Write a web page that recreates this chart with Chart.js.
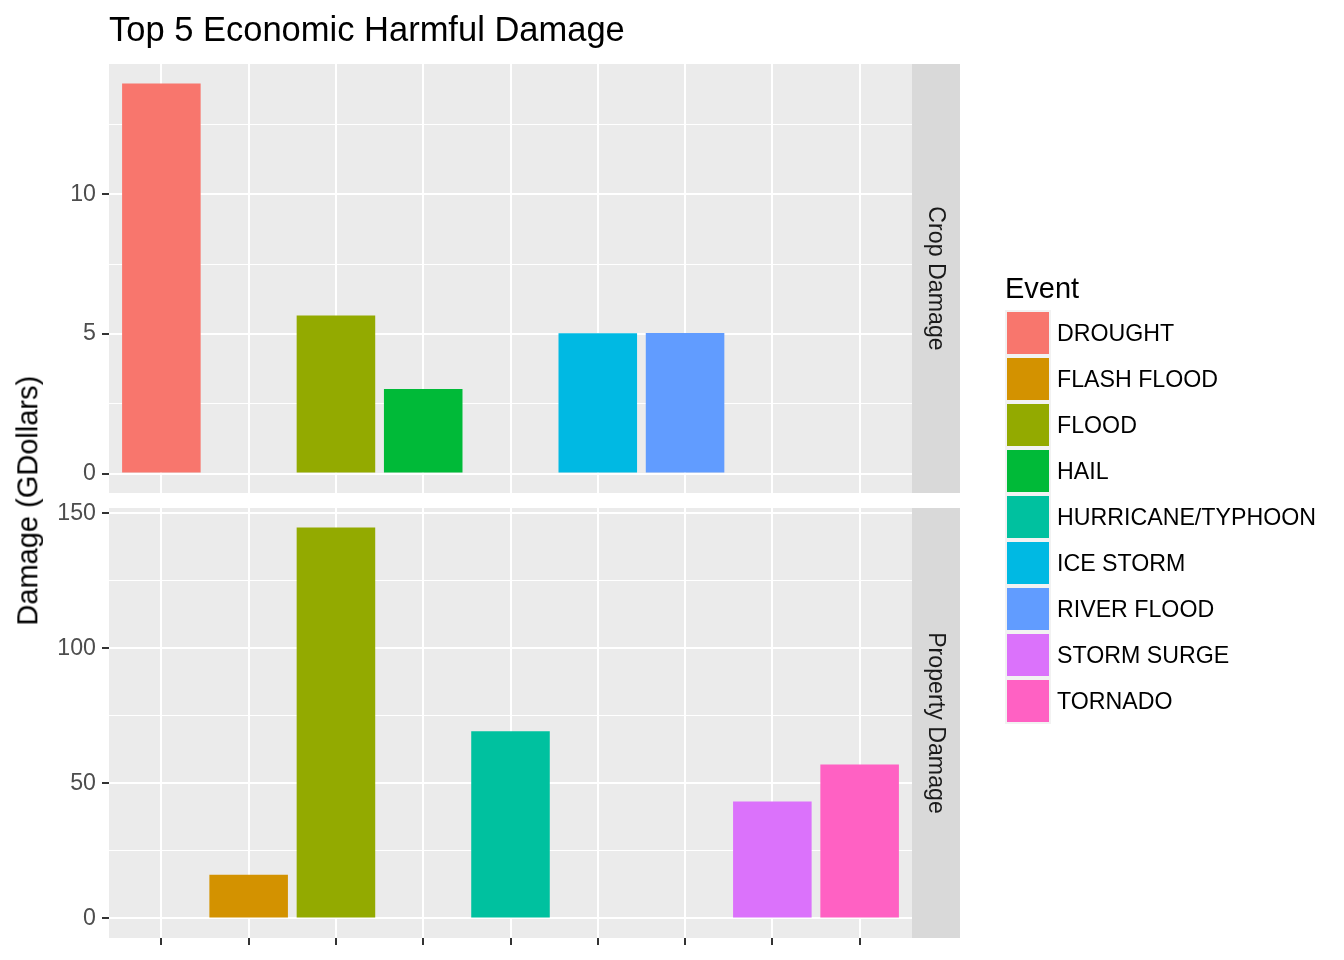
<!DOCTYPE html>
<html>
<head>
<meta charset="utf-8">
<title>Top 5 Economic Harmful Damage</title>
<script src="https://cdn.jsdelivr.net/npm/chart.js@4.4.1/dist/chart.umd.min.js"></script>
<style>
  body { margin: 0; background: #fff; font-family: "Liberation Sans", Arial, sans-serif; }
  #wrap { position: relative; width: 1344px; height: 960px; overflow: hidden; }
  canvas { position: absolute; left: 0; top: 0; }
  #title { position: absolute; left: 109px; top: 12px; font-size: 34.5px; line-height: 34.5px; color: #000; white-space: nowrap; }
  #ytitle { position: absolute; left: -272px; top: 486px; width: 600px; height: 29.3px;
            font-size: 29px; line-height: 29.3px; text-align: center; color: #000;
            transform: rotate(-90deg); transform-origin: 50% 50%; white-space: nowrap; }
  #legend { position: absolute; left: 1005px; top: 274px; }
  #legend .lt { font-size: 29px; line-height: 29.3px; height: 36px; color: #000; }
  #legend .row { display: flex; align-items: center; height: 46px; }
  #legend .key { width: 46px; height: 46px; box-sizing: border-box; border: 2px solid #F2F2F2; }
  #legend .lab { margin-left: 6px; font-size: 23.2px; color: #000; white-space: nowrap; }
</style>
</head>
<body>
<div id="wrap">
  <canvas id="cropChart" width="1344" height="960"></canvas>
  <canvas id="propChart" width="1344" height="960"></canvas>
  <div id="title">Top 5 Economic Harmful Damage</div>
  <div id="ytitle">Damage (GDollars)</div>
  <div id="legend"><div class="lt">Event</div></div>
</div>
<script>
const categories     = ['DROUGHT', 'FLASH FLOOD', 'FLOOD', 'HAIL', 'HURRICANE/TYPHOON',
                        'ICE STORM', 'RIVER FLOOD', 'STORM SURGE', 'TORNADO'];
const eventColors    = ['#F8766D', '#D39200', '#93AA00', '#00BA38', '#00C19F',
                        '#00B9E3', '#619CFF', '#DB72FB', '#FF61C3'];
const cropDamage     = [13.97, null, 5.66, 3.03, null, 5.02, 5.03, null, null];
const propertyDamage = [null, 16.14, 144.66, null, 69.31, null, null, 43.32, 56.94];
const cropTicks      = [0, 5, 10];
const cropMinor      = [2.5, 7.5, 12.5];
const propTicks      = [0, 50, 100, 150];
const propMinor      = [25, 75, 125];

// grey panel + facet strip on the right
const panelPlugin = {
  id: 'panel',
  beforeDraw(chart, args, opts) {
    const { ctx, chartArea: a } = chart;
    ctx.save();
    ctx.fillStyle = '#EBEBEB';
    ctx.fillRect(a.left, a.top, a.right - a.left, a.bottom - a.top);
    ctx.fillStyle = '#D9D9D9';
    ctx.fillRect(a.right, a.top, 48, a.bottom - a.top);
    ctx.translate(a.right + 23, (a.top + a.bottom) / 2);
    ctx.rotate(Math.PI / 2);
    ctx.fillStyle = '#1A1A1A';
    ctx.font = '23.2px "Liberation Sans", Arial, sans-serif';
    ctx.textAlign = 'center';
    ctx.textBaseline = 'middle';
    ctx.fillText(opts.label, 0, 0);
    ctx.restore();
  },
};

function makePanel(id, values, major, minor, label, padTop, padBottom, xTicks) {
  const pts = [], cols = [];
  values.forEach((v, i) => {
    if (v != null) { pts.push({ x: i + 1, y: v }); cols.push(eventColors[i]); }
  });
  const top = Math.max(...pts.map(p => p.y));
  const allTicks = [...major, ...minor].sort((a, b) => a - b);

  return new Chart(document.getElementById(id), {
    type: 'bar',
    data: {
      datasets: [{
        data: pts,
        backgroundColor: cols,
        borderWidth: 0,
        barPercentage: 0.9,
        categoryPercentage: 1,
      }],
    },
    plugins: [panelPlugin],
    options: {
      responsive: false,
      animation: false,
      devicePixelRatio: 1,
      events: [],
      layout: { padding: { top: padTop, bottom: padBottom, left: 0, right: 432 } },
      scales: {
        x: {
          type: 'linear',
          offset: false,
          min: 0.4,
          max: categories.length + 0.6,
          afterBuildTicks: (s) => { s.ticks = categories.map((c, i) => ({ value: i + 1 })); },
          afterFit: (s) => { s.height = 0; },
          ticks: { display: false },
          border: { display: false },
          grid: { offset: false, color: '#FFFFFF', lineWidth: 2, drawTicks: xTicks, tickLength: 7,
                  tickColor: '#333333', tickWidth: 2 },
        },
        y: {
          min: -0.05 * top,
          max: 1.05 * top,
          afterBuildTicks: (s) => { s.ticks = allTicks.map(v => ({ value: v })); },
          afterFit: (s) => { s.width = 109; },
          border: { display: false },
          ticks: {
            autoSkip: false,
            padding: 6,
            color: '#4D4D4D',
            font: { family: '"Liberation Sans", Arial, sans-serif', size: 23.2 },
            callback: (v) => major.includes(v) ? String(v) : '',
          },
          grid: {
            color: '#FFFFFF',
            lineWidth: (c) => major.includes(c.tick.value) ? 2 : 1,
            tickLength: 7,
            tickWidth: 2,
            tickColor: (c) => major.includes(c.tick.value) ? '#333333' : 'rgba(0,0,0,0)',
          },
        },
      },
      plugins: {
        legend: { display: false },
        tooltip: { enabled: false },
        panel: { label },
      },
    },
  });
}

makePanel('cropChart', cropDamage, cropTicks, cropMinor, 'Crop Damage', 64, 467, false);
makePanel('propChart', propertyDamage, propTicks, propMinor, 'Property Damage', 508, 22, true);

// legend
const legendEl = document.getElementById('legend');
categories.forEach((c, i) => {
  const row = document.createElement('div');
  row.className = 'row';
  const key = document.createElement('div');
  key.className = 'key';
  key.style.background = eventColors[i];
  const lab = document.createElement('div');
  lab.className = 'lab';
  lab.textContent = c;
  row.appendChild(key);
  row.appendChild(lab);
  legendEl.appendChild(row);
});
</script>
</body>
</html>
